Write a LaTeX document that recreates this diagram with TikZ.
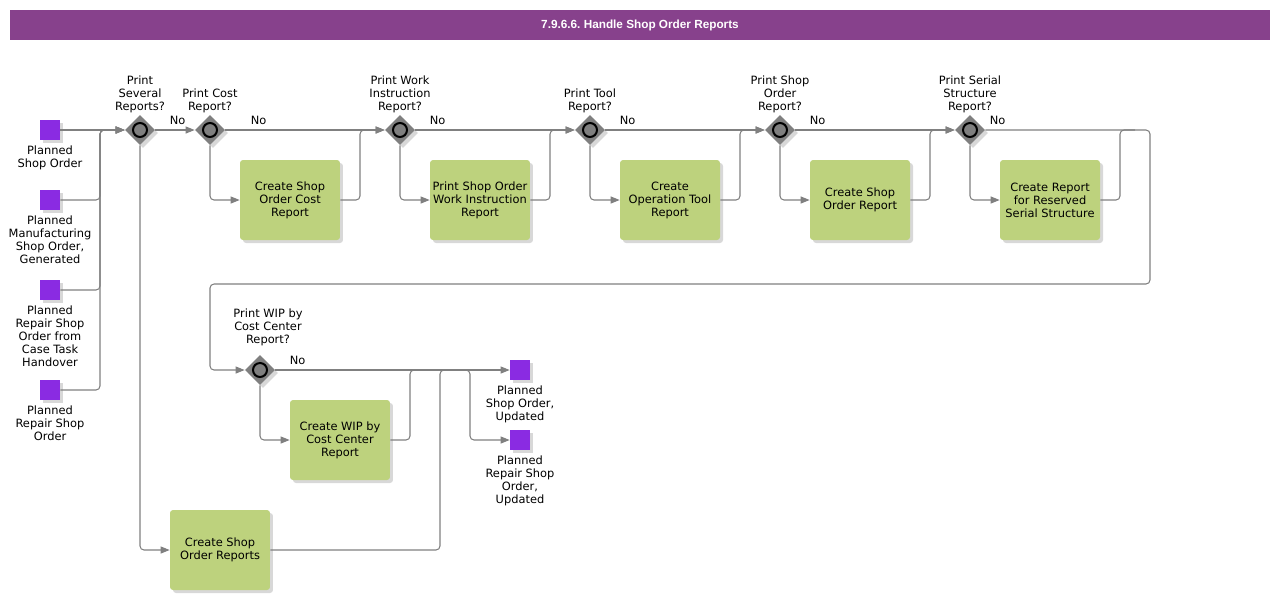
\documentclass[tikz,border=0pt]{standalone}
\usepackage{fontspec}
\setmainfont{DejaVu Sans}
\newfontfamily\titlefont{Liberation Sans}
\usetikzlibrary{positioning}
\usetikzlibrary{shapes.geometric}
\usetikzlibrary{shadows}
\usetikzlibrary{arrows.meta}
\definecolor{barpurple}{HTML}{87418C}
\definecolor{datapurple}{HTML}{8A2BE2}
\definecolor{taskgreen}{HTML}{BDD27D}
\definecolor{flowgray}{HTML}{808080}
\definecolor{gategray}{HTML}{7F7F7F}
\tikzset{
	txt/.style={align=center, inner sep=1pt, font=\fontsize{6.5}{7.4}\selectfont},
	softshadow/.style={drop shadow={shadow xshift=0.06cm, shadow yshift=-0.06cm, fill=black!30, opacity=0.5}},
	task/.style={txt, rectangle, rounded corners=0.06cm, fill=taskgreen, minimum width=2cm, minimum height=1.6cm, softshadow},
	dataobj/.style={rectangle, fill=datapurple, minimum size=0.4cm, inner sep=0pt, softshadow},
	gate/.style={diamond, fill=gategray, minimum width=0.6cm, minimum height=0.6cm, inner sep=0pt, softshadow,
		path picture={\draw[black, line width=0.04cm, fill=gategray] (path picture bounding box.center) circle (0.14cm);}},
	line/.style={draw=flowgray, line width=0.6pt, rounded corners=0.08cm},
	flow/.style={line, -{Triangle[length=0.18cm, width=0.14cm]}},
	nolbl/.style={txt, anchor=south west, pos=0, inner sep=0pt, xshift=#1, yshift=0.1cm},
	nolbl/.default=0.28cm,
}

\begin{document}
\begin{tikzpicture}[x=0.02cm, y=-0.02cm]
	\useasboundingbox (0,0) rectangle (1280,600);
	% title bar
	\node[fill=barpurple, minimum width=25.2cm, minimum height=0.6cm, text=white, font=\titlefont\bfseries\fontsize{6.7}{8}\selectfont] (title) at (640,25) {7.9.6.6.\ Handle Shop Order Reports};
	% inputs
	\node[dataobj] (in1) at (50,130) {};
	\node[dataobj] (in2) at (50,200) {};
	\node[dataobj] (in3) at (50,290) {};
	\node[dataobj] (in4) at (50,390) {};
	\node[txt, below=0.06cm of in1] {Planned\\Shop Order};
	\node[txt, below=0.06cm of in2] {Planned\\Manufacturing\\Shop Order,\\Generated};
	\node[txt, below=0.06cm of in3] {Planned\\Repair Shop\\Order from\\Case Task\\Handover};
	\node[txt, below=0.06cm of in4] {Planned\\Repair Shop\\Order};
	% gateways
	\node[gate] (g1) at (140,130) {};
	\node[gate] (g2) at (210,130) {};
	\node[gate] (g3) at (400,130) {};
	\node[gate] (g4) at (590,130) {};
	\node[gate] (g5) at (780,130) {};
	\node[gate] (g6) at (970,130) {};
	\node[gate] (g7) at (260,370) {};
	\node[txt, above=0pt of g1] {Print\\Several\\Reports?};
	\node[txt, above=0pt of g2] {Print Cost\\Report?};
	\node[txt, above=0pt of g3] {Print Work\\Instruction\\Report?};
	\node[txt, above=0pt of g4] {Print Tool\\Report?};
	\node[txt, above=0pt of g5] {Print Shop\\Order\\Report?};
	\node[txt, above=0pt of g6] {Print Serial\\Structure\\Report?};
	\node[txt, above=0.14cm of g7, xshift=0.16cm] {Print WIP by\\Cost Center\\Report?};
	% tasks
	\node[task] (cost) at (290,200) {Create Shop\\Order Cost\\Report};
	\node[task] (wi) at (480,200) {Print Shop Order\\Work Instruction\\Report};
	\node[task] (tool) at (670,200) {Create\\Operation Tool\\Report};
	\node[task] (sor) at (860,200) {Create Shop\\Order Report};
	\node[task] (ser) at (1050,200) {Create Report\\for Reserved\\Serial Structure};
	\node[task] (wip) at (340,440) {Create WIP by\\Cost Center\\Report};
	\node[task] (rep) at (220,550) {Create Shop\\Order Reports};
	% outputs
	\node[dataobj] (out1) at (520,370) {};
	\node[dataobj] (out2) at (520,440) {};
	\node[txt, below=0.06cm of out1] {Planned\\Shop Order,\\Updated};
	\node[txt, below=0.06cm of out2] {Planned\\Repair Shop\\Order,\\Updated};
	% junctions
	\coordinate (j1) at (100,130);
	\coordinate (m2) at (360,130);
	\coordinate (m3) at (550,130);
	\coordinate (m4) at (740,130);
	\coordinate (m5) at (930,130);
	\coordinate (m6) at (1120,130);
	\coordinate (loopR) at (1150,284);
	\coordinate (loopL) at (210,284);
	\coordinate (m7) at (410,370);
	\coordinate (m8) at (440,370);
	\coordinate (b1) at (470,370);
	% flows in
	\draw[flow] (in1) -- (g1);
	\draw[flow] (in2.east) -| (j1) -- (g1.west);
	\draw[flow] (in3.east) -| (j1) -- (g1.west);
	\draw[flow] (in4.east) -| (j1) -- (g1.west);
	% first row
	\draw[flow] (g1) -- node[nolbl]{No} (g2);
	\draw[flow] (g1.south) |- (rep.west);
	\draw[flow] (g2) -- node[nolbl=0.5cm]{No} (g3);
	\draw[flow] (g2.south) |- (cost.west);
	\draw[flow] (cost.east) -| (m2) -- (g3.west);
	\draw[flow] (g3) -- node[nolbl]{No} (g4);
	\draw[flow] (g3.south) |- (wi.west);
	\draw[flow] (wi.east) -| (m3) -- (g4.west);
	\draw[flow] (g4) -- node[nolbl]{No} (g5);
	\draw[flow] (g4.south) |- (tool.west);
	\draw[flow] (tool.east) -| (m4) -- (g5.west);
	\draw[flow] (g5) -- node[nolbl]{No} (g6);
	\draw[flow] (g5.south) |- (sor.west);
	\draw[flow] (sor.east) -| (m5) -- (g6.west);
	\draw[flow] (g6.south) |- (ser.west);
	\draw[line] (ser.east) -| (m6) -- ++(15,0);
	\draw[flow] (g6.east) -| node[nolbl=0.08cm]{No} (loopR) -- (loopL) |- (g7.west);
	% second row
	\draw[flow] (g7) -- node[nolbl]{No} (out1);
	\draw[flow] (g7.south) |- (wip.west);
	\draw[line] (wip.east) -| (m7) -- ++(15,0);
	\draw[flow] (rep.east) -| (m8) -- (b1) |- (out2.west);
\end{tikzpicture}
\end{document}
